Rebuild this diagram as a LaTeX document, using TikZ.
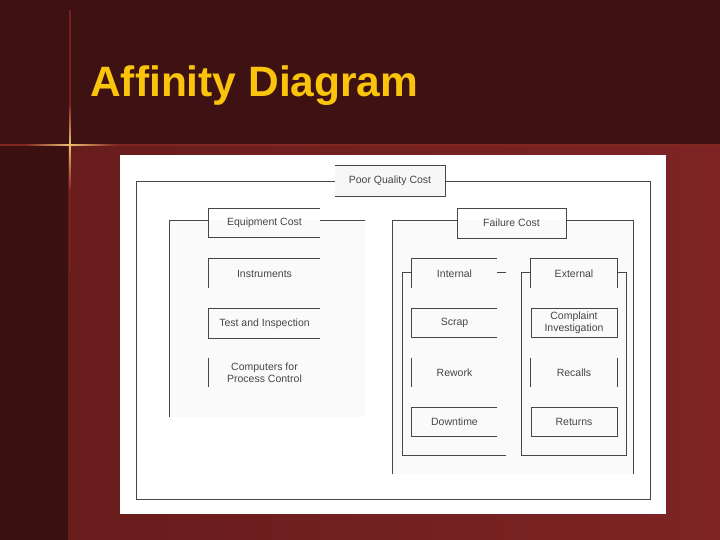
\documentclass[tikz,border=0pt]{standalone}
\usepackage{fontspec}
\setmainfont{Liberation Sans}
\usepackage{tikz}
\usetikzlibrary{positioning, calc}

\definecolor{topdark}{RGB}{62,18,18}
\definecolor{coldark}{RGB}{58,16,16}
\definecolor{redlo}{RGB}{104,28,28}
\definecolor{redhi}{RGB}{126,36,36}
\definecolor{sparkred}{RGB}{130,38,34}
\definecolor{sparkgold}{RGB}{235,190,110}
\definecolor{titlegold}{RGB}{250,196,12}
\definecolor{inkgray}{RGB}{70,70,70}

\tikzset{
  lbl/.style={font=\fontsize{10.5}{12}\selectfont, text=inkgray, align=center},
  cell/.style={lbl, minimum width=85pt, minimum height=29pt, inner sep=0pt},
  widecell/.style={cell, minimum width=111pt},
  edge/.style={draw=inkgray, line width=0.9pt},
}

\begin{document}
\begin{tikzpicture}[x=1pt, y=-1pt]
  \useasboundingbox (0,0) rectangle (720,540);

  % slide background
  \fill[topdark] (0,0) rectangle (720,145);
  \fill[coldark] (0,145) rectangle (68,540);
  \shade[left color=redlo, right color=redhi] (68,145) rectangle (720,540);

  % sparkle lines
  \fill[sparkred] (0,144.4) rectangle (720,145.8);
  \fill[sparkred!80!topdark] (69.4,10) rectangle (70.6,270);
  \shade[left color=sparkred, right color=sparkgold] (25,144.4) rectangle (70,145.8);
  \shade[left color=sparkgold, right color=sparkred] (70,144.4) rectangle (115,145.8);
  \shade[top color=sparkred, bottom color=sparkgold] (69.3,105) rectangle (70.7,145);
  \shade[top color=sparkgold, bottom color=sparkred] (69.3,145) rectangle (70.7,190);

  % title
  \node[anchor=base west, inner sep=0pt, text=titlegold,
        font=\fontsize{42.5}{48}\selectfont\bfseries] (title) at (90,97) {Affinity Diagram};

  % white panel
  \fill[white] (120,155) rectangle (666,514);
  \fill[gray!4] (169,220) rectangle (365,417);
  \fill[gray!4] (392,220) rectangle (633,474);

  % Poor Quality Cost
  \node[lbl, fill=gray!6, minimum width=110pt, minimum height=30pt, inner sep=0pt] (pqc) at (390,181) {Poor Quality Cost};
  \draw[edge] (pqc.north west) -- (pqc.north east) -- (pqc.south east) -- (pqc.south west);
  \draw[edge] (pqc.west) -- (136,181) -- (136,499) -- (650,499) -- (650,181) -- (pqc.east);

  % Equipment Cost group
  \node[widecell] (eqc) at (264.5,223) {Equipment Cost};
  \draw[edge] (eqc.north east) -- (eqc.north west) -- (eqc.south west) -- (eqc.south east);
  \draw[edge] (209,220) -- (169,220) -- (169,417);
  \draw[edge] (320,220) -- (365,220);

  \node[widecell] (instr) at (264.5,273.5) {Instruments};
  \draw[edge] (instr.south west) -- (instr.north west) -- (instr.north east);

  \node[widecell] (test) at (264.5,323.5) {Test and Inspection};
  \draw[edge] (test.north east) -- (test.north west) -- (test.south west) -- (test.south east);

  \node[widecell] (comp) at (264.5,372.5) {Computers for\\Process Control};
  \draw[edge] (comp.north west) -- (comp.south west);

  % Failure Cost group
  \node[cell, draw=inkgray, line width=0.9pt, minimum width=109pt, minimum height=30pt] (fc) at (511.5,223) {Failure Cost};
  \draw[edge] (fc.west |- 0,220) -- (392,220) -- (392,474);
  \draw[edge] (fc.east |- 0,220) -- (633,220) -- (633,474);

  % Internal
  \node[cell] (int) at (454.5,273.5) {Internal};
  \draw[edge] (int.south west) -- (int.north west) -- (int.north east);
  \draw[edge] (int.west |- 0,272) -- (402,272) -- (402,455) -- (506,455);
  \draw[edge] (int.east |- 0,272) -- (506,272);

  \node[cell] (scrap) at (454.5,323) {Scrap};
  \draw[edge] (scrap.north east) -- (scrap.north west) -- (scrap.south west) -- (scrap.south east);

  \node[cell] (rework) at (454.5,372.5) {Rework};
  \draw[edge] (rework.north west) -- (rework.south west);

  \node[cell] (down) at (454.5,422) {Downtime};
  \draw[edge] (down.north east) -- (down.north west) -- (down.south west) -- (down.south east);

  % External
  \node[cell, minimum width=86pt] (ext) at (574,273.5) {External};
  \draw[edge] (ext.south west) -- (ext.north west) -- (ext.north east) -- (ext.south east);
  \draw[edge] (ext.west |- 0,272) -- (521,272) -- (521,455) -- (626,455) -- (626,272) -- (ext.east |- 0,272);

  \node[cell, minimum width=86pt, draw=inkgray, line width=0.9pt] (compl) at (574,323) {Complaint\\Investigation};

  \node[cell, minimum width=86pt] (recall) at (574,372.5) {Recalls};
  \draw[edge] (recall.north west) -- (recall.south west);
  \draw[edge] (recall.north east) -- (recall.south east);

  \node[cell, minimum width=86pt, draw=inkgray, line width=0.9pt] (ret) at (574,422) {Returns};
\end{tikzpicture}
\end{document}
